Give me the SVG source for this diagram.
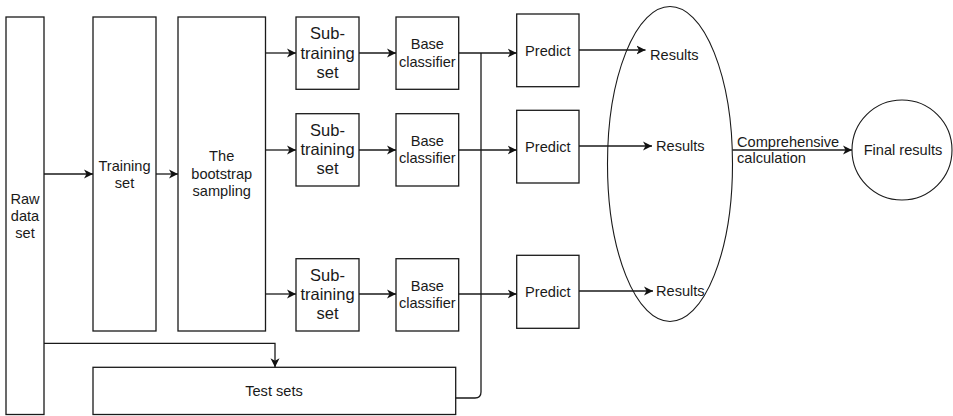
<svg xmlns="http://www.w3.org/2000/svg" width="953" height="416" viewBox="0 0 953 416">
<style>
.box{fill:#fff;stroke:#1a1a1a;stroke-width:1.3}
.ell{fill:none;stroke:#1a1a1a;stroke-width:1.1}
.t{font-family:"Liberation Sans",Arial,sans-serif;font-size:14.6px;fill:#1a1a1a;text-anchor:middle}
.ts{font-size:16.5px}
.l{text-anchor:start}
.e{fill:none;stroke:#1a1a1a;stroke-width:1.3}
</style>
<defs>
<marker id="arr" viewBox="0 0 10 10" refX="9" refY="5" markerWidth="10" markerHeight="10" markerUnits="userSpaceOnUse" orient="auto">
<path d="M0,0.5 L9,5 L0,9.5 L2.5,5 z" fill="#111"/>
</marker>
</defs>
<rect width="953" height="416" fill="#fff"/>

<g id="raw"><rect class="box" x="6" y="17" width="38" height="397.5"/>
<text class="t" x="25" y="204">Raw</text><text class="t" x="25" y="221">data</text><text class="t" x="25" y="238">set</text></g>

<g id="training"><rect class="box" x="93" y="17" width="63" height="314"/>
<text class="t" x="124.5" y="170.5">Training</text><text class="t" x="124.5" y="188">set</text></g>

<g id="bootstrap"><rect class="box" x="178" y="17" width="87.5" height="314"/>
<text class="t" x="221.7" y="161">The</text><text class="t" x="221.7" y="178.5">bootstrap</text><text class="t" x="221.7" y="196">sampling</text></g>

<g id="sub1"><rect class="box" x="296" y="17" width="63" height="72.3"/>
<text class="t ts" x="327.5" y="39.3">Sub-</text><text class="t ts" x="327.5" y="58.5">training</text><text class="t ts" x="327.5" y="77.5">set</text></g>
<g id="sub2"><rect class="box" x="296" y="113.7" width="63" height="72.3"/>
<text class="t ts" x="327.5" y="136">Sub-</text><text class="t ts" x="327.5" y="155.2">training</text><text class="t ts" x="327.5" y="174.2">set</text></g>
<g id="sub3"><rect class="box" x="296" y="258.7" width="63" height="72.3"/>
<text class="t ts" x="327.5" y="281">Sub-</text><text class="t ts" x="327.5" y="300.2">training</text><text class="t ts" x="327.5" y="319.2">set</text></g>

<g id="base1"><rect class="box" x="396" y="17" width="62.7" height="72.3"/>
<text class="t" x="427.3" y="49">Base</text><text class="t" x="427.3" y="66.5">classifier</text></g>
<g id="base2"><rect class="box" x="396" y="113.7" width="62.7" height="72.3"/>
<text class="t" x="427.3" y="145.7">Base</text><text class="t" x="427.3" y="163.2">classifier</text></g>
<g id="base3"><rect class="box" x="396" y="258.7" width="62.7" height="72.3"/>
<text class="t" x="427.3" y="290.7">Base</text><text class="t" x="427.3" y="308.2">classifier</text></g>

<g id="predict1"><rect class="box" x="516.7" y="14" width="62.3" height="72.7"/>
<text class="t" x="547.8" y="55.5">Predict</text></g>
<g id="predict2"><rect class="box" x="516.7" y="110.3" width="62.3" height="72.7"/>
<text class="t" x="547.8" y="151.5">Predict</text></g>
<g id="predict3"><rect class="box" x="516.7" y="255.3" width="62.3" height="73"/>
<text class="t" x="547.8" y="296.5">Predict</text></g>

<g id="testsets"><rect class="box" x="93" y="367.3" width="362.7" height="47.2"/>
<text class="t" x="274" y="395.5">Test sets</text></g>

<g id="resultsgroup"><ellipse class="ell" cx="670" cy="164" rx="62.5" ry="157.5"/></g>
<g id="results1"><text class="t l" x="650" y="59.5">Results</text></g>
<g id="results2"><text class="t l" x="656" y="150.5">Results</text></g>
<g id="results3"><text class="t l" x="656" y="295.5">Results</text></g>

<g id="final"><circle class="ell" cx="902" cy="150" r="50"/>
<text class="t" x="903" y="154.5">Final results</text></g>

<g id="connectors">
<path class="e" d="M44,174 H93" marker-end="url(#arr)"/>
<path class="e" d="M156,174 H178" marker-end="url(#arr)"/>
<path class="e" d="M265.5,53 H296" marker-end="url(#arr)"/>
<path class="e" d="M265.5,150 H296" marker-end="url(#arr)"/>
<path class="e" d="M265.5,294 H296" marker-end="url(#arr)"/>
<path class="e" d="M359,53 H396" marker-end="url(#arr)"/>
<path class="e" d="M359,150 H396" marker-end="url(#arr)"/>
<path class="e" d="M359,294 H396" marker-end="url(#arr)"/>
<path class="e" d="M458.7,53 H516.7" marker-end="url(#arr)"/>
<path class="e" d="M458.7,150 H516.7" marker-end="url(#arr)"/>
<path class="e" d="M458.7,294 H516.7" marker-end="url(#arr)"/>
<path class="e" d="M455.7,398 H475 Q481,398 481,392 V53"/>
<path class="e" d="M44,343.3 H275 V367.3" marker-end="url(#arr)"/>
<path class="e" d="M579,50 H645.5" marker-end="url(#arr)"/>
<path class="e" d="M579,146 H652" marker-end="url(#arr)"/>
<path class="e" d="M579,291 H653" marker-end="url(#arr)"/>
<path class="e" d="M732.5,150 H852" marker-end="url(#arr)"/>
<text class="t l" x="737" y="147">Comprehensive</text>
<text class="t l" x="737" y="163">calculation</text>
</g>
</svg>
